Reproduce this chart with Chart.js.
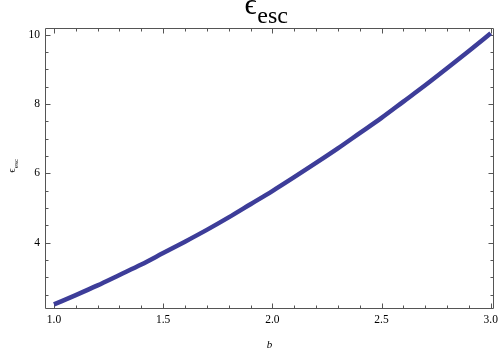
<!DOCTYPE html>
<html>
<head>
<meta charset="utf-8">
<script src="https://cdn.jsdelivr.net/npm/chart.js@4.4.1/dist/chart.umd.min.js"></script>
<style>
  html, body { margin: 0; padding: 0; background: #ffffff; }
  #wrap { width: 499px; height: 356px; }
</style>
</head>
<body>
<div id="wrap"><canvas id="c" width="499" height="356"></canvas></div>
<script>
// ---- data ----
const bValues = [1.0, 1.1, 1.2, 1.3, 1.4, 1.5, 1.6, 1.7, 1.8, 1.9, 2.0,
                 2.1, 2.2, 2.3, 2.4, 2.5, 2.6, 2.7, 2.8, 2.9, 3.0];
const epsValues = [2.22, 2.49, 2.77, 3.07, 3.37, 3.70, 4.03, 4.37, 4.73, 5.11, 5.49,
                   5.89, 6.30, 6.72, 7.16, 7.60, 8.07, 8.54, 9.03, 9.53, 10.04];
const xMajorTicks = [1.0, 1.5, 2.0, 2.5, 3.0];
const xMinorTicks = [1.1, 1.2, 1.3, 1.4, 1.6, 1.7, 1.8, 1.9, 2.1, 2.2, 2.3, 2.4, 2.6, 2.7, 2.8, 2.9];
const yMajorTicks = [4, 6, 8, 10];
const yMinorTicks = [2.5, 3, 3.5, 4.5, 5, 5.5, 6.5, 7, 7.5, 8.5, 9, 9.5];
const xTickLabels = ['1.0', '1.5', '2.0', '2.5', '3.0'];
const yTickLabels = ['4', '6', '8', '10'];
const titleMain = 'ϵ';
const titleSub = 'esc';
const xAxisTitle = 'b';

const serif = '"Liberation Serif", "DejaVu Serif", serif';
const frameColor = '#555555';

const framePlugin = {
  id: 'mmaFrame',
  beforeDatasetsDraw(chart) {
    const { ctx, chartArea: a, scales } = chart;
    const xs = scales.x, ys = scales.y;
    ctx.save();
    ctx.strokeStyle = frameColor;
    ctx.lineWidth = 1;
    const L = Math.round(a.left) + 0.5, R = Math.round(a.right) - 0.5;
    const T = Math.round(a.top) + 0.5, B = Math.round(a.bottom) - 0.5;
    ctx.beginPath();
    ctx.rect(L, T, R - L, B - T);
    ctx.stroke();
    const tick = (vals, len) => {
      vals.forEach(v => {
        const px = Math.round(xs.getPixelForValue(v)) + 0.5;
        ctx.moveTo(px, B); ctx.lineTo(px, B - len);
        ctx.moveTo(px, T); ctx.lineTo(px, T + len);
      });
    };
    const ytick = (vals, len) => {
      vals.forEach(v => {
        const py = Math.round(ys.getPixelForValue(v)) + 0.5;
        ctx.moveTo(L, py); ctx.lineTo(L + len, py);
        ctx.moveTo(R, py); ctx.lineTo(R - len, py);
      });
    };
    ctx.beginPath();
    tick(xMajorTicks, 5); tick(xMinorTicks, 3);
    ytick(yMajorTicks, 5); ytick(yMinorTicks, 3);
    ctx.stroke();
    ctx.restore();
  },
  afterDraw(chart) {
    const { ctx } = chart;
    ctx.save();
    ctx.fillStyle = '#000000';
    ctx.textBaseline = 'alphabetic';
    // main title with subscript
    const f1 = '30px ' + serif, f2 = '24px ' + serif;
    ctx.font = f1;
    const w1 = ctx.measureText(titleMain).width;
    ctx.font = f2;
    const w2 = ctx.measureText(titleSub).width;
    const cx = 266;
    const x0 = cx - (w1 + w2) / 2;
    ctx.font = f1;
    ctx.fillText(titleMain, x0, 14);
    ctx.font = f2;
    ctx.fillText(titleSub, x0 + w1 + 0.5, 23);
    // y axis title, rotated
    ctx.translate(12, 166);
    ctx.rotate(-Math.PI / 2);
    const g1 = '11px ' + serif, g2 = '7px ' + serif;
    ctx.font = g1;
    const v1 = ctx.measureText(titleMain).width;
    ctx.font = g2;
    const v2 = ctx.measureText(titleSub).width;
    const y0 = -(v1 + v2) / 2;
    ctx.font = g1;
    ctx.fillText(titleMain, y0, 3);
    ctx.font = g2;
    ctx.fillText(titleSub, y0 + v1 + 0.3, 5.5);
    ctx.restore();
  }
};

const points = bValues.map((b, i) => ({ x: b, y: epsValues[i] }));

new Chart(document.getElementById('c'), {
  type: 'line',
  data: {
    datasets: [{
      data: points,
      borderColor: '#3d3d99',
      borderWidth: 4.5,
      pointRadius: 0,
      fill: false,
      cubicInterpolationMode: 'monotone',
      borderCapStyle: 'butt'
    }]
  },
  options: {
    responsive: false,
    animation: false,
    devicePixelRatio: 1,
    layout: { padding: { top: 28, right: 5, left: 0, bottom: 0 } },
    plugins: { legend: { display: false }, tooltip: { enabled: false }, title: { display: false } },
    scales: {
      x: {
        type: 'linear',
        min: 0.959,
        max: 3.015,
        afterFit(s) { s.height = 47; s.paddingLeft = 0; s.paddingRight = 0; },
        afterBuildTicks(s) { s.ticks = xMajorTicks.map(v => ({ value: v })); },
        grid: { display: false, drawTicks: false },
        border: { display: false },
        ticks: {
          autoSkip: false,
          maxRotation: 0,
          padding: 4,
          color: '#000000',
          font: { family: serif, size: 11.5 },
          callback(v) {
            const i = xMajorTicks.findIndex(m => Math.abs(m - v) < 1e-9);
            return i >= 0 ? xTickLabels[i] : '';
          }
        },
        title: {
          display: true,
          text: xAxisTitle,
          color: '#000000',
          font: { family: serif, size: 11, style: 'italic' },
          padding: { top: 0, bottom: 4.4 }
        }
      },
      y: {
        type: 'linear',
        min: 2.088,
        max: 10.193,
        afterFit(s) { s.width = 45; s.paddingTop = 0; s.paddingBottom = 0; },
        afterBuildTicks(s) { s.ticks = yMajorTicks.map(v => ({ value: v })); },
        grid: { display: false, drawTicks: false },
        border: { display: false },
        ticks: {
          autoSkip: false,
          padding: 5,
          color: '#000000',
          font: { family: serif, size: 11.5 },
          callback(v) {
            const i = yMajorTicks.findIndex(m => Math.abs(m - v) < 1e-9);
            return i >= 0 ? yTickLabels[i] : '';
          }
        }
      }
    }
  },
  plugins: [framePlugin]
});
</script>
</body>
</html>
